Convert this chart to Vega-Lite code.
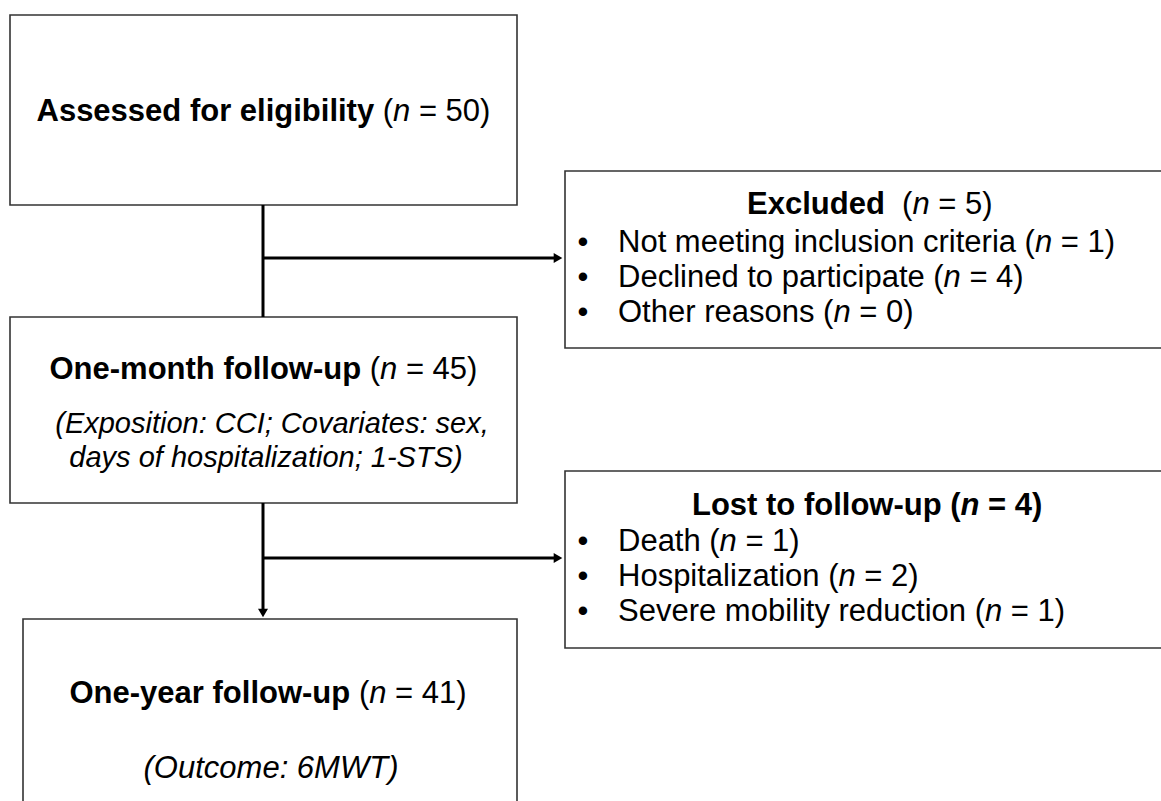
{
  "$schema": "https://vega.github.io/schema/vega-lite/v6.json",
  "width": 1161,
  "height": 801,
  "autosize": {"type": "fit", "contains": "padding"},
  "padding": 0,
  "background": "white",
  "config": {"view": {"stroke": null}},
  "datasets": {
    "boxes": [
      {"box": "eligibility", "x": 10, "x2": 517, "y": 15, "y2": 205},
      {"box": "excluded", "x": 565, "x2": 1175, "y": 171, "y2": 348},
      {"box": "one-month", "x": 10, "x2": 517, "y": 317, "y2": 503},
      {"box": "lost", "x": 565, "x2": 1175, "y": 471, "y2": 648},
      {"box": "one-year", "x": 23, "x2": 517, "y": 619, "y2": 815}
    ],
    "links": [
      {"x": 263, "x2": 263, "y": 205, "y2": 317},
      {"x": 263, "x2": 557, "y": 258, "y2": 258},
      {"x": 263, "x2": 263, "y": 503, "y2": 611},
      {"x": 263, "x2": 557, "y": 558, "y2": 558}
    ],
    "heads": [
      {"x": 558, "y": 258, "dir": "right"},
      {"x": 558, "y": 558, "dir": "right"},
      {"x": 263, "y": 613, "dir": "down"}
    ],
    "texts": [
      {"x": 36.5, "y": 121, "t": "Assessed for eligibility", "k": "bold"},
      {"x": 382.8, "y": 121, "t": "(", "k": "regular"},
      {"x": 393.1, "y": 121, "t": "n", "k": "italic"},
      {"x": 418.9, "y": 121, "t": "= 50)", "k": "regular"},

      {"x": 747, "y": 214, "t": "Excluded", "k": "bold"},
      {"x": 902.0, "y": 214, "t": "(", "k": "regular"},
      {"x": 912.4, "y": 214, "t": "n", "k": "italic"},
      {"x": 938.2, "y": 214, "t": "= 5)", "k": "regular"},
      {"x": 583, "y": 252, "t": "•", "k": "bullet"},
      {"x": 618, "y": 252, "t": "Not meeting inclusion criteria (", "k": "regular"},
      {"x": 1034.9, "y": 252, "t": "n", "k": "italic"},
      {"x": 1060.7, "y": 252, "t": "= 1)", "k": "regular"},
      {"x": 583, "y": 287, "t": "•", "k": "bullet"},
      {"x": 618, "y": 287, "t": "Declined to participate (", "k": "regular"},
      {"x": 943.6, "y": 287, "t": "n", "k": "italic"},
      {"x": 969.4, "y": 287, "t": "= 4)", "k": "regular"},
      {"x": 583, "y": 322, "t": "•", "k": "bullet"},
      {"x": 618, "y": 322, "t": "Other reasons (", "k": "regular"},
      {"x": 833.4, "y": 322, "t": "n", "k": "italic"},
      {"x": 859.2, "y": 322, "t": "= 0)", "k": "regular"},

      {"x": 49.5, "y": 379, "t": "One-month follow-up", "k": "bold"},
      {"x": 369.8, "y": 379, "t": "(", "k": "regular"},
      {"x": 380.1, "y": 379, "t": "n", "k": "italic"},
      {"x": 405.9, "y": 379, "t": "= 45)", "k": "regular"},
      {"x": 272, "y": 433, "t": "(Exposition: CCI; Covariates: sex,", "k": "note"},
      {"x": 266, "y": 467, "t": "days of hospitalization; 1-STS)", "k": "note"},

      {"x": 692, "y": 515, "t": "Lost to follow-up (", "k": "bold"},
      {"x": 960.6, "y": 515, "t": "n", "k": "bolditalic"},
      {"x": 988.1, "y": 515, "t": "= 4)", "k": "bold"},
      {"x": 583, "y": 551, "t": "•", "k": "bullet"},
      {"x": 618, "y": 551, "t": "Death (", "k": "regular"},
      {"x": 719.6, "y": 551, "t": "n", "k": "italic"},
      {"x": 745.4, "y": 551, "t": "= 1)", "k": "regular"},
      {"x": 583, "y": 586, "t": "•", "k": "bullet"},
      {"x": 618, "y": 586, "t": "Hospitalization (", "k": "regular"},
      {"x": 838.5, "y": 586, "t": "n", "k": "italic"},
      {"x": 864.3, "y": 586, "t": "= 2)", "k": "regular"},
      {"x": 583, "y": 621, "t": "•", "k": "bullet"},
      {"x": 618, "y": 621, "t": "Severe mobility reduction (", "k": "regular"},
      {"x": 984.9, "y": 621, "t": "n", "k": "italic"},
      {"x": 1010.7, "y": 621, "t": "= 1)", "k": "regular"},

      {"x": 69.5, "y": 703, "t": "One-year follow-up", "k": "bold"},
      {"x": 358.9, "y": 703, "t": "(", "k": "regular"},
      {"x": 369.2, "y": 703, "t": "n", "k": "italic"},
      {"x": 395.0, "y": 703, "t": "= 41)", "k": "regular"},
      {"x": 271, "y": 778, "t": "(Outcome: 6MWT)", "k": "outcome"}
    ]
  },
  "encoding": {
    "x": {"field": "x", "type": "quantitative", "scale": {"domain": [0, 1161], "nice": false, "zero": false}, "axis": null},
    "y": {"field": "y", "type": "quantitative", "scale": {"domain": [0, 801], "reverse": true, "nice": false, "zero": false}, "axis": null}
  },
  "layer": [
    {
      "data": {"name": "boxes"},
      "mark": {"type": "rect", "fill": "white", "stroke": "#333333", "strokeWidth": 1.6, "clip": true},
      "encoding": {
        "x2": {"field": "x2"},
        "y2": {"field": "y2"}
      }
    },
    {
      "data": {"name": "links"},
      "mark": {"type": "rule", "color": "black", "strokeWidth": 3},
      "encoding": {
        "x2": {"field": "x2"},
        "y2": {"field": "y2"}
      }
    },
    {
      "data": {"name": "heads"},
      "mark": {"type": "point", "filled": true, "color": "black", "size": 100, "opacity": 1},
      "encoding": {
        "shape": {"field": "dir", "type": "nominal", "scale": {"domain": ["right", "down"], "range": ["triangle-right", "triangle-down"]}, "legend": null}
      }
    },
    {
      "data": {"name": "texts"},
      "transform": [{"filter": "datum.k === 'bold'"}],
      "mark": {"type": "text", "align": "left", "baseline": "alphabetic", "font": "Liberation Sans", "fontSize": 31, "fontWeight": "bold", "color": "black"},
      "encoding": {"text": {"field": "t"}}
    },
    {
      "data": {"name": "texts"},
      "transform": [{"filter": "datum.k === 'regular'"}],
      "mark": {"type": "text", "align": "left", "baseline": "alphabetic", "font": "Liberation Sans", "fontSize": 31, "color": "black"},
      "encoding": {"text": {"field": "t"}}
    },
    {
      "data": {"name": "texts"},
      "transform": [{"filter": "datum.k === 'italic'"}],
      "mark": {"type": "text", "align": "left", "baseline": "alphabetic", "font": "Liberation Sans", "fontSize": 31, "fontStyle": "italic", "color": "black"},
      "encoding": {"text": {"field": "t"}}
    },
    {
      "data": {"name": "texts"},
      "transform": [{"filter": "datum.k === 'bolditalic'"}],
      "mark": {"type": "text", "align": "left", "baseline": "alphabetic", "font": "Liberation Sans", "fontSize": 31, "fontStyle": "italic", "fontWeight": "bold", "color": "black"},
      "encoding": {"text": {"field": "t"}}
    },
    {
      "data": {"name": "texts"},
      "transform": [{"filter": "datum.k === 'bullet'"}],
      "mark": {"type": "text", "align": "center", "baseline": "alphabetic", "font": "Liberation Sans", "fontSize": 31, "color": "black"},
      "encoding": {"text": {"field": "t"}}
    },
    {
      "data": {"name": "texts"},
      "transform": [{"filter": "datum.k === 'note'"}],
      "mark": {"type": "text", "align": "center", "baseline": "alphabetic", "font": "Liberation Sans", "fontSize": 29, "fontStyle": "italic", "color": "black"},
      "encoding": {"text": {"field": "t"}}
    },
    {
      "data": {"name": "texts"},
      "transform": [{"filter": "datum.k === 'outcome'"}],
      "mark": {"type": "text", "align": "center", "baseline": "alphabetic", "font": "Liberation Sans", "fontSize": 31, "fontStyle": "italic", "color": "black"},
      "encoding": {"text": {"field": "t"}}
    }
  ]
}
